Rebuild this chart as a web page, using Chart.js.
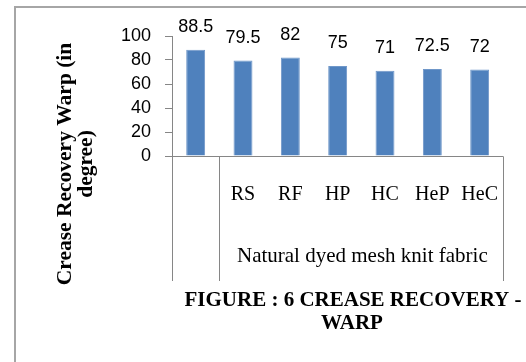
<!DOCTYPE html>
<html>
<head>
<meta charset="utf-8">
<script src="https://cdn.jsdelivr.net/npm/chart.js@4.4.0/dist/chart.umd.min.js"></script>
<style>
html,body{margin:0;padding:0;background:#fff;}
#wrap{width:526px;height:362px;position:relative;}
</style>
</head>
<body>
<div id="wrap"><canvas id="c" width="526" height="362"></canvas></div>
<script>
const categories = ['', 'RS', 'RF', 'HP', 'HC', 'HeP', 'HeC'];
const warpValues = [88.5, 79.5, 82, 75, 71, 72.5, 72];
const yTicks = [0, 20, 40, 60, 80, 100];
const groupLabel = 'Natural dyed mesh knit fabric';
const yTitle = ['Crease Recovery Warp (in', 'degree)'];
const figTitle = ['FIGURE : 6 CREASE RECOVERY -', 'WARP'];

const SERIF = '"Liberation Serif", "Times New Roman", serif';
const SANS = '"Liberation Sans", Arial, sans-serif';
const AXIS = '#868686';

const decor = {
  id: 'decor',
  beforeDraw(chart) {
    const ctx = chart.ctx;
    ctx.save();
    ctx.strokeStyle = '#a6a6a6';
    ctx.lineWidth = 2;
    ctx.beginPath();
    ctx.moveTo(15, 362); ctx.lineTo(15, 7); ctx.lineTo(526, 7);
    ctx.stroke();
    ctx.restore();
  },
  afterDraw(chart) {
    const ctx = chart.ctx;
    const x = chart.scales.x, y = chart.scales.y;
    const ca = chart.chartArea;
    const bottom = 281;
    const boundary = (x.getPixelForValue(0) + x.getPixelForValue(1)) / 2;
    ctx.save();
    ctx.strokeStyle = AXIS;
    ctx.lineWidth = 1;
    ctx.beginPath();
    const y0 = Math.round(y.getPixelForValue(0)) + 0.5;
    ctx.moveTo(ca.left, y0); ctx.lineTo(x.right, y0);
    [ca.left, boundary, x.right].forEach(px => {
      const p = Math.round(px) + 0.5;
      ctx.moveTo(p, y0); ctx.lineTo(p, bottom);
    });
    ctx.stroke();
    // group label
    ctx.fillStyle = '#000';
    ctx.font = '21px ' + SERIF;
    ctx.textAlign = 'center';
    ctx.textBaseline = 'middle';
    ctx.fillText(groupLabel, (boundary + x.right) / 2 + 1, 256);
    // data labels
    const meta = chart.getDatasetMeta(0);
    ctx.font = '18px ' + SANS;
    ctx.fillStyle = '#000';
    ctx.textBaseline = 'bottom';
    meta.data.forEach((bar, i) => {
      ctx.fillText(String(warpValues[i]), bar.x, bar.y - 14);
    });
    // y title
    ctx.font = 'bold 21.5px ' + SERIF;
    ctx.save();
    ctx.translate(65, 164);
    ctx.rotate(-Math.PI / 2);
    ctx.textBaseline = 'middle';
    ctx.fillText(yTitle[0], 0, 0);
    ctx.fillText(yTitle[1], 0, 21);
    ctx.restore();
    // figure title
    ctx.font = 'bold 21px ' + SERIF;
    ctx.textBaseline = 'middle';
    ctx.fillText(figTitle[0], 353, 301);
    ctx.fillText(figTitle[1], 352, 324);
    ctx.restore();
  }
};

new Chart(document.getElementById('c'), {
  type: 'bar',
  data: {
    labels: categories,
    datasets: [{
      data: warpValues,
      backgroundColor: '#4f81bd',
      borderColor: '#6f97c9',
      borderWidth: 1,
      barPercentage: 0.8,
      categoryPercentage: 0.5
    }]
  },
  options: {
    responsive: false,
    animation: false,
    devicePixelRatio: 1,
    layout: { padding: { left: 0, top: 36, right: 14, bottom: 0 } },
    plugins: { legend: { display: false }, tooltip: { enabled: false }, title: { display: false } },
    scales: {
      x: {
        grid: { display: false, drawTicks: false },
        border: { display: false },
        ticks: { font: { family: SERIF, size: 20 }, color: '#000', padding: 27, maxRotation: 0, autoSkip: false },
        afterFit(s) { s.height = 362 - 156; }
      },
      y: {
        min: 0, max: 100,
        afterBuildTicks(s) { s.ticks = yTicks.map(v => ({ value: v })); },
        grid: { display: true, drawOnChartArea: false, drawTicks: true, tickLength: 7, color: AXIS },
        border: { display: true, color: AXIS },
        ticks: { font: { family: SANS, size: 18 }, color: '#000', padding: 14, autoSkip: false },
        afterFit(s) { s.width = 172; }
      }
    }
  },
  plugins: [decor]
});
</script>
</body>
</html>
